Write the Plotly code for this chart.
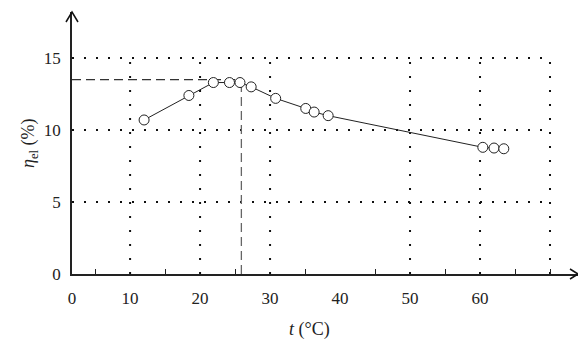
import plotly.graph_objects as go

# data
temperature_c = [12.0, 18.4, 21.9, 24.2, 25.7, 27.3, 30.8, 35.1, 36.3, 38.3, 60.4, 62.0, 63.4]
efficiency_pct = [10.7, 12.4, 13.3, 13.3, 13.3, 13.0, 12.2, 11.5, 11.25, 11.0, 8.8, 8.75, 8.7]

x_tick_vals = [10, 20, 30, 40, 50, 60]
x_minor_vals = [5, 15, 25, 35, 45, 55, 65, 70]
y_tick_vals = [0, 5, 10, 15]
x_grid = [10, 20, 30, 50, 60, 70]
y_grid = [5, 10, 15]
optimum_t = 25.9
optimum_eta = 13.5

x_start = 1.7
x_end = 74.0
y_top = 18.2

font_family = "Liberation Serif, Times New Roman, serif"

fig = go.Figure()

fig.add_trace(go.Scatter(
    x=temperature_c, y=efficiency_pct, mode="lines+markers",
    line=dict(color="#222", width=1),
    marker=dict(symbol="circle", size=10, color="white", line=dict(color="#222", width=1)),
    showlegend=False, hoverinfo="skip",
))

shapes = []
for gx in x_grid:
    shapes.append(dict(type="line", xref="x", yref="y", x0=gx, x1=gx, y0=0, y1=15,
                       line=dict(color="#111", width=2, dash="2px,12px"), layer="below"))
for gy in y_grid:
    shapes.append(dict(type="line", xref="x", yref="y", x0=x_start, x1=70, y0=gy, y1=gy,
                       line=dict(color="#111", width=2, dash="2px,10px"), layer="below"))
# optimum dashed guides
shapes.append(dict(type="line", xref="x", yref="y", x0=x_start, x1=optimum_t, y0=optimum_eta, y1=optimum_eta,
                   line=dict(color="#333", width=1.3, dash="9px,5px"), layer="below"))
shapes.append(dict(type="line", xref="x", yref="y", x0=optimum_t, x1=optimum_t, y0=0, y1=optimum_eta,
                   line=dict(color="#666", width=1.3, dash="9px,5px"), layer="below"))
# arrow heads (paper refs so they are not clipped)
shapes.append(dict(type="path", xref="paper", yref="paper", xsizemode="pixel", ysizemode="pixel",
                   xanchor=0, yanchor=1, path="M -6 -10 L 0 0 L 6 -10",
                   line=dict(color="#111", width=1.5)))
shapes.append(dict(type="path", xref="paper", yref="paper", xsizemode="pixel", ysizemode="pixel",
                   xanchor=1, yanchor=0, path="M -8 -5 L 0 0 L -8 5",
                   line=dict(color="#111", width=1.5)))

fig.update_layout(
    width=578, height=349,
    margin=dict(l=72, r=0, t=12, b=75),
    paper_bgcolor="white", plot_bgcolor="white",
    font=dict(family=font_family, size=17, color="#222"),
    shapes=shapes,
    xaxis=dict(
        range=[x_start, x_end], showgrid=False, zeroline=False, automargin=False,
        showline=True, linecolor="#222", linewidth=1.5,
        tickvals=[x_start] + x_tick_vals, ticktext=["0"] + [str(v) for v in x_tick_vals],
        ticks="", ticklabelstandoff=8,
        minor=dict(tickvals=x_minor_vals, ticks="inside", ticklen=5, tickcolor="#222", tickwidth=1),
    ),
    yaxis=dict(
        range=[0, y_top], showgrid=False, zeroline=False, automargin=False,
        showline=True, linecolor="#222", linewidth=1.5,
        tickvals=y_tick_vals, ticks="", ticklabelstandoff=6,
    ),
    annotations=[
        dict(text="<i>t</i> (°C)", xref="paper", yref="paper", x=0.47, y=-0.21,
             xanchor="center", yanchor="middle", showarrow=False, font=dict(size=18)),
        dict(text="<i>η</i><sub>el</sub> (%)", xref="paper", yref="paper", x=-0.085, y=0.5,
             xanchor="center", yanchor="middle", showarrow=False, textangle=-90, font=dict(size=18)),
    ],
)

fig.write_html("out.html", config={"displayModeBar": False},
               post_script="document.body.style.margin='0';")
